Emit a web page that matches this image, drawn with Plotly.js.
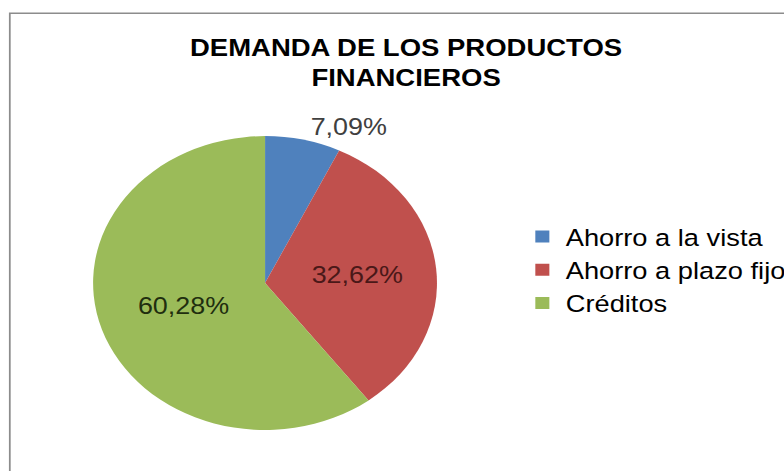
<!DOCTYPE html>
<html>
<head>
<meta charset="utf-8">
<script src="https://cdn.plot.ly/plotly-3.0.1.min.js"></script>
<style>
html,body{margin:0;padding:0;width:784px;height:471px;overflow:hidden;background:#fff;}
#plot{position:absolute;left:0;top:0;width:670px;height:471px;transform:scaleX(1.17);transform-origin:0 0;}
</style>
</head>
<body>
<div id="plot"></div>
<script>
const categories = ["Ahorro a la vista", "Ahorro a plazo fijo", "Créditos"];
const values = [7.09, 32.62, 60.28];
const sliceColors = ["#4F81BD", "#C0504D", "#9BBB59"];
const labelColors = ["#404040", "#4a1818", "#1f2e0f"];
const titleText = "DEMANDA DE LOS PRODUCTOS<br>FINANCIEROS";

const trace = {
  type: "pie",
  labels: categories,
  values: values,
  sort: false,
  direction: "clockwise",
  rotation: 0,
  marker: {colors: sliceColors, line: {width: 0}},
  texttemplate: "%{value:.2f}%",
  textposition: ["outside", "inside", "inside"],
  insidetextorientation: "horizontal",
  textfont: {family: "Liberation Sans, Arial, sans-serif", size: 23, color: labelColors},
  outsidetextfont: {family: "Liberation Sans, Arial, sans-serif", size: 23, color: "#404040"},
  hoverinfo: "label+percent",
  domain: {x: [0.1187, 0.5575], y: [0.087, 0.711]},
  automargin: false
};

const layout = {
  width: 670,
  height: 471,
  margin: {l: 0, r: 0, t: 0, b: 0, autoexpand: false},
  paper_bgcolor: "#ffffff",
  separators: ",.",
  showlegend: true,
  title: {
    text: titleText,
    font: {family: "Liberation Sans, Arial, sans-serif", size: 23.5, color: "#000000", weight: "bold"},
    x: 0.518, xanchor: "center",
    y: 0.882, yanchor: "top",
    xref: "paper", yref: "container"
  },
  legend: {
    x: 0.662, xanchor: "left",
    y: 0.544, yanchor: "top",
    font: {family: "Liberation Sans, Arial, sans-serif", size: 23.3, color: "#000000"},
    bgcolor: "rgba(0,0,0,0)",
    borderwidth: 0
  },
  shapes: [{
    type: "rect", xref: "paper", yref: "paper",
    x0: 0.0125, x1: 1.2, y0: -0.2, y1: 0.972,
    line: {color: "#8c8c8c", width: 1.5},
    layer: "below"
  }]
};

Plotly.newPlot("plot", [trace], layout, {staticPlot: true, displayModeBar: false});
</script>
</body>
</html>
